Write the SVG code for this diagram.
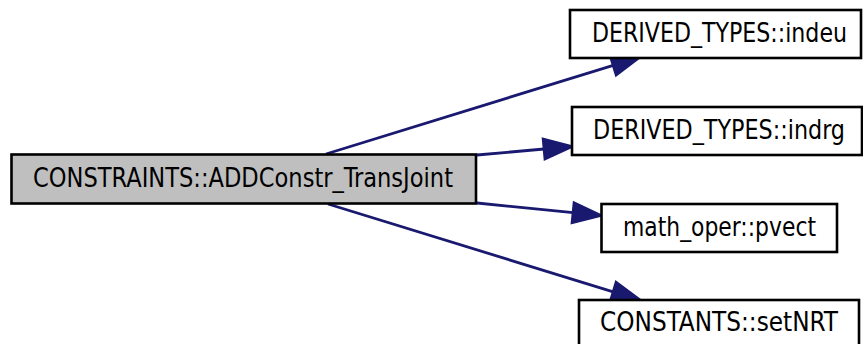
<svg xmlns="http://www.w3.org/2000/svg" width="863" height="344" viewBox="0 0 863 344">
  <style>
    .node rect { fill: #ffffff; stroke: #000000; stroke-width: 2.6; }
    .node.root rect { fill: #bfbfbf; }
    .node text { font-family: "DejaVu Sans Condensed", "DejaVu Sans", sans-serif; font-size: 26px; fill: #000000; text-anchor: middle; }
    .edge line { stroke: #191970; stroke-width: 2.8; }
    .edge polygon { fill: #191970; stroke: #191970; stroke-width: 2.8; stroke-linejoin: miter; }
  </style>
  <rect width="863" height="344" fill="#ffffff"/>

  <g id="edges">
    <g class="edge" id="edge-indeu">
      <line x1="326" y1="154" x2="613.2" y2="65.3"/>
      <polygon points="640,57 616.2,74.9 610.2,55.7"/>
    </g>
    <g class="edge" id="edge-indrg">
      <line x1="477" y1="155" x2="544.1" y2="149"/>
      <polygon points="572,146.5 545,159 543.2,139"/>
    </g>
    <g class="edge" id="edge-pvect">
      <line x1="477" y1="203" x2="573.1" y2="212.7"/>
      <polygon points="601,215.5 572.1,222.7 574.1,202.8"/>
    </g>
    <g class="edge" id="edge-setNRT">
      <line x1="328" y1="204" x2="613.2" y2="291.8"/>
      <polygon points="640,300 610.3,301.4 616.1,282.2"/>
    </g>
  </g>

  <g class="node root" id="node-ADDConstr_TransJoint">
    <rect x="11.5" y="154.5" width="464.5" height="49"/>
    <text x="243" y="187" textLength="420" lengthAdjust="spacingAndGlyphs">CONSTRAINTS::ADDConstr_TransJoint</text>
  </g>
  <g class="node" id="node-indeu">
    <rect x="570" y="10" width="291" height="48"/>
    <text x="719.5" y="41.5" textLength="255" lengthAdjust="spacingAndGlyphs">DERIVED_TYPES::indeu</text>
  </g>
  <g class="node" id="node-indrg">
    <rect x="572" y="107" width="290" height="48"/>
    <text x="719" y="138.5" textLength="252" lengthAdjust="spacingAndGlyphs">DERIVED_TYPES::indrg</text>
  </g>
  <g class="node" id="node-pvect">
    <rect x="601.5" y="204" width="235.5" height="48"/>
    <text x="719.5" y="235.5" textLength="193" lengthAdjust="spacingAndGlyphs">math_oper::pvect</text>
  </g>
  <g class="node" id="node-setNRT">
    <rect x="579" y="300" width="280" height="49"/>
    <text x="719" y="331" textLength="238" lengthAdjust="spacingAndGlyphs">CONSTANTS::setNRT</text>
  </g>
</svg>
